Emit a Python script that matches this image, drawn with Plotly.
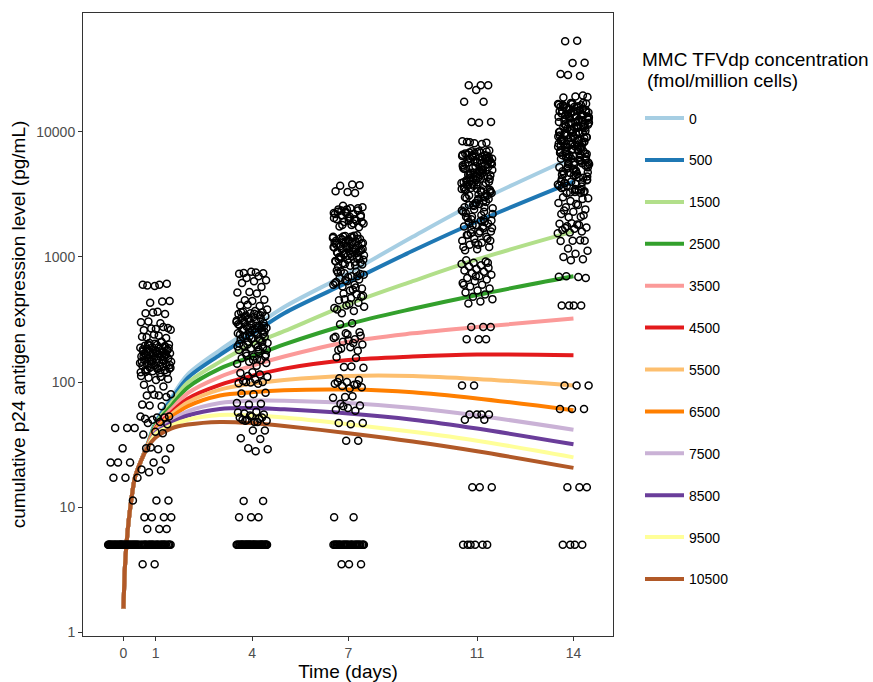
import plotly.graph_objects as go

# ---------------- data ----------------
concentrations = ["0", "500", "1500", "2500", "3500", "4500", "5500", "6500",
                  "7500", "8500", "9500", "10500"]
colors = ["#A6CEE3", "#1F78B4", "#B2DF8A", "#33A02C", "#FB9A99", "#E31A1C",
          "#FDBF6F", "#FF7F00", "#CAB2D6", "#6A3D9A", "#FFFF99", "#B15928"]

curve_t = [0, 0.05, 0.13, 0.24, 0.36, 0.55, 0.75, 1, 1.5, 2, 3, 4, 5, 7, 9, 11, 14]
c0 = [1.55, 3.5, 6.5, 11.3, 17.4, 23.6, 32.0, 48, 76, 115, 180, 268, 398, 742, 1450, 2750, 6300]
c500 = [1.55, 3.5, 6.5, 11.3, 17.4, 23.6, 31.8, 47.3, 73, 108, 165, 242, 355, 630, 1120, 1920, 4000]
c1500 = [1.55, 3.5, 6.5, 11.3, 17.4, 23.6, 31.6, 46.2, 69, 99, 145, 200, 255, 420, 640, 955, 1600]
c2500 = [1.55, 3.5, 6.5, 11.3, 17.4, 23.6, 31.4, 45.1, 65, 90.5, 128, 160, 200, 290, 385, 497, 700]
c3500 = [1.55, 3.5, 6.5, 11.3, 17.4, 23.6, 31.2, 43.8, 61, 81.5, 110, 135, 160, 210, 245, 275, 322]
c4500 = [1.55, 3.5, 6.5, 11.3, 17.4, 23.6, 31.0, 42.6, 57.4, 73.6, 95, 112, 128, 150, 160, 166, 164]
c5500 = [1.55, 3.5, 6.5, 11.3, 17.4, 23.6, 30.9, 41.9, 55.3, 69, 87, 97, 104, 112, 112, 106, 94]
c6500 = [1.55, 3.5, 6.5, 11.3, 17.4, 23.6, 30.8, 41.0, 52.7, 64, 78, 83, 86, 87, 83, 74, 59.5]
c7500 = [1.55, 3.5, 6.5, 11.3, 17.4, 23.6, 30.6, 40.0, 49.7, 58.3, 68, 71, 71, 68, 62, 54, 41.6]
c8500 = [1.55, 3.5, 6.5, 11.3, 17.4, 23.6, 30.4, 39.2, 47.3, 54, 61, 62, 60.5, 56, 50, 42.5, 31.8]
c9500 = [1.55, 3.5, 6.5, 11.3, 17.4, 23.6, 30.2, 38.4, 45.1, 50, 54.5, 54, 52, 46, 40, 34, 25]
c10500 = [1.55, 3.5, 6.5, 11.3, 17.4, 23.6, 30.0, 36, 42.7, 45.7, 48, 47, 44.6, 39, 33.5, 28, 20.6]
curves = [c0, c500, c1500, c2500, c3500, c4500, c5500, c6500, c7500, c8500, c9500, c10500]

days = [0, 1, 4, 7, 11, 14]
day_ticks = ["0", "1", "4", "7", "11", "14"]

legend_title_lines = ["MMC TFVdp concentration", "(fmol/million cells)"]

day0_vals = [43, 43, 43, 29.5, 22.7, 22.7, 22.7, 17.2, 17.2, 17.2, 11.3] + [5] * 36

day1_vals = [600, 590, 610, 585, 600, 440, 430, 445, 365, 355, 350, 360, 300, 295, 305,
             270, 265, 260, 275, 268, 262, 235, 228, 225, 240, 230,
             210, 205, 200, 198, 195, 192, 190, 188, 185, 183, 180, 178, 176, 175, 172,
             170, 168, 166, 165, 163, 160, 158, 156, 155, 153, 150, 148, 146, 145, 143,
             140, 138, 136, 135, 133, 130, 128, 127, 125, 124, 122, 120, 118, 200, 180,
             170, 160, 150, 140, 130, 190, 175, 165, 155, 145,
             208, 196, 186, 177, 168, 159, 151, 142, 134, 126, 119, 202, 182, 162, 147,
             137, 129, 121, 193, 171,
             112, 110, 108, 106, 104, 95, 92, 88, 80, 78, 78, 76, 79, 66, 64, 65,
             53, 52, 51, 52, 50, 53, 48, 47, 46, 40, 38, 39, 30, 29.5, 29, 29.5,
             24, 22.7, 20, 19.6, 19, 11.3, 11.3, 8.3, 8.3, 8.3, 8.3, 6.7, 6.7, 6.7,
             3.5, 3.5] + [5] * 28

day4_vals = [750, 745, 740, 760, 735, 700, 680, 650, 640, 620, 575, 525, 520, 510,
             450, 455, 445, 410, 405, 415, 380,
             370, 365, 360, 355, 350, 345, 340, 335, 330, 325, 320, 315, 310, 305, 300,
             295, 290, 285, 280, 275, 270, 265, 260, 255, 250, 245, 240, 235, 230, 225,
             220, 215, 210, 205, 200, 195, 190, 185, 180, 175, 170, 165, 160, 155, 150,
             145, 140, 135, 300, 280, 260, 240, 220, 200, 180, 250, 230, 210, 270, 290,
             190, 170, 160, 150,
             362, 342, 322, 302, 282, 262, 242, 222, 202, 182, 162, 142, 352, 312, 272,
             232, 192, 152, 332, 252,
             120, 118, 115, 112, 110, 105, 102, 100, 99, 98, 97, 100, 82, 80, 81,
             67, 66, 68, 58, 56, 55, 53, 52, 51, 50, 49, 48, 50, 52, 54, 57, 48, 49,
             41, 41, 35.5, 35, 29.6, 29, 28, 11.2, 11.2, 8.3, 8.3, 8.3] + [5] * 40

day7_vals = [3800, 3700, 3750, 3300, 3350, 3250,
             2570, 2500, 2450, 2400, 2350, 2300, 2250, 2200, 2150, 2100, 2050, 2000,
             1950, 1900, 1850, 1800, 1750, 1730, 2400, 2200, 2000, 1800, 1900, 2100, 2300,
             1490, 1470, 1450, 1430, 1410, 1390, 1370, 1350, 1330, 1310, 1290, 1270,
             1250, 1230, 1210, 1190, 1170, 1150, 1130, 1110, 1090, 1070, 1050, 1030,
             1010, 990, 970, 950, 930, 910, 890, 870, 850, 830, 1400, 1300, 1200, 1100,
             1000, 900, 1350, 1250, 1150, 1050, 950, 1450, 1000, 1100, 1200, 1300,
             1480, 1380, 1280, 1180, 1080, 980, 880, 1420, 1320, 1220, 1120, 1020, 920,
             860, 1460, 1160, 1060, 960, 2450, 2250, 2050, 1850, 2350, 2150, 1950,
             780, 760, 740, 720, 700, 680, 660, 640, 620, 600, 580, 560, 540, 750, 700,
             650, 600, 550, 770, 730, 690, 630, 570,
             510, 490, 470, 450, 430, 410, 390, 370, 355, 480, 420, 380, 500, 460, 400,
             295, 290, 250, 240, 230, 220, 210, 200, 190, 180, 178, 245, 225, 205, 185,
             235, 215, 158, 156, 132, 130, 133,
             107, 104, 100, 97, 95, 93, 91, 89, 100, 96, 76, 75, 77, 67, 65, 62, 60, 59, 64,
             47, 46, 47, 34, 34, 8.3, 8.3, 3.5, 3.5, 3.5] + [5] * 30

day11_vals = [23600, 23600, 23600, 21600, 17400, 17400, 12000, 12000, 11800,
              8300, 8200, 8100, 8400, 8000, 8250,
              7100, 6900, 6700, 6500, 6300, 6100, 5900, 5700, 5500, 5300, 5100, 4900,
              4700, 4500, 4300, 4100, 3900, 3700, 3500, 3300, 3100, 2900, 2700, 2500,
              2300, 2100, 1960, 7000, 6600, 6200, 5800, 5400, 5000, 4600, 4200, 3800,
              3400, 3000, 2600, 2200, 6800, 6000, 5200, 4400, 3600, 2800, 2000, 5600,
              4800, 4000, 3200, 2400, 6400, 5000, 4500, 4000, 3500, 3000, 2500, 6500,
              5500, 4500, 3700, 3100, 2700, 2300, 5300, 4300, 3300, 2900, 2100, 6100,
              4700, 3900, 3400, 2600, 5900, 4100, 3500, 2000, 7000, 5700, 4900, 3800,
              6950, 6750, 6550, 6350, 6150, 5950, 5750, 5550, 5350, 5150, 4950, 4750,
              4550, 4350, 4150, 3950, 3750, 3550, 3350, 3150, 2950, 2750, 2550, 2350,
              2150, 6850, 6250, 5650, 5050, 4450, 3850, 3250, 2650, 2050, 6450, 5850,
              5250, 4650, 4050, 3450, 2850, 2250, 6050, 4250, 2450,
              1950, 1900, 1850, 1800, 1750, 1700, 1650, 1600, 1550, 1500, 1450, 1400,
              1350, 1300, 1250, 1200, 1150, 1130, 1900, 1800, 1700, 1600, 1500, 1400,
              1300, 1200, 1750, 1550, 1350, 1250,
              940, 920, 900, 880, 860, 840, 820, 800, 780, 760, 740, 720, 700, 680, 660,
              640, 620, 600, 580, 560, 540, 520, 500, 480, 460, 440, 425, 900, 700, 600,
              275, 275, 275, 220, 220, 220, 94, 94, 55, 55, 55, 55, 50, 50,
              14.4, 14.4, 14.4, 5, 5, 5, 5, 5, 5]

day14_vals = [53500, 53000, 35700, 35500, 29000, 28000, 28500, 19000, 19200, 18800, 19500,
              17000, 16500, 16000, 15500, 15000, 14500, 14000, 13500, 13000, 12500,
              12000, 11500, 11000, 10500, 10000, 9700, 9400, 9100, 8800, 8500, 8200,
              7900, 7600, 7300, 7000, 6700, 6400, 6100, 5800, 5500, 5200, 4900, 4600,
              4300, 4000, 3700, 3400, 3240, 16800, 15800, 14800, 13800, 12800, 11800,
              10800, 9800, 8900, 8000, 7100, 6200, 5300, 4400, 3500, 16200, 15200,
              14200, 13200, 12200, 11200, 10200, 9300, 8400, 7500, 6600, 5700, 4800,
              3900, 3300, 16600, 14600, 12600, 10600, 9000, 7700, 6500, 5600, 4700,
              3800, 15600, 13600, 11600, 9900, 8600, 7400, 6300, 5400, 4500, 3600,
              17000, 14000, 12000, 10000, 8000, 6000, 5000, 4200, 3450, 15000, 13000,
              11000, 9500, 8300, 7200, 6800, 5900, 5100, 4100, 3300, 16400, 12400,
              10400, 9200, 7800, 6900, 6000, 5000, 4000, 3250, 13400, 11400, 9600,
              8100, 7000, 6100, 5200, 4300, 3700, 14400, 10900, 8700, 7600, 6400, 5500,
              4600, 3900, 3350,
              16900, 15900, 14900, 13900, 12900, 11900, 10900, 9900, 8950, 8050, 7150,
              6250, 5350, 4450, 3550, 16300, 15300, 14300, 13300, 12300, 11300, 10300,
              9350, 8450, 7550, 6650, 5750, 4850, 3950, 3280, 16700, 14700, 12700,
              10700, 9050, 7750, 6550, 5650, 4750, 3850, 15700, 13700, 11700, 9950,
              8650, 7450, 6350, 5450, 4550, 3650, 15100, 13100, 11100, 9550, 8350, 7250,
              6850, 5950, 5150, 4150, 3420,
              3000, 2900, 2800, 2700, 2600, 2500, 2400, 2300, 2200, 2100, 2080, 2950,
              2650, 2350, 2150,
              1860, 1840, 1800, 1760, 1720, 1680, 1640, 1600, 1570, 1550, 1820, 1700,
              1350, 1350, 1340, 1360, 1170, 1120, 1060, 1000, 960, 940,
              695, 690, 700, 680, 410, 410, 410, 410, 94, 94, 94, 61, 61, 61,
              14.4, 14.4, 14.4, 5, 5, 5, 5]

day_values = [day0_vals, day1_vals, day4_vals, day7_vals, day11_vals, day14_vals]

# ---------------- figure ----------------
fig = go.Figure()

for name, col, vals in zip(concentrations, colors, curves):
    fig.add_trace(go.Scatter(
        x=curve_t, y=vals, mode="lines", name=name, legendgroup=name,
        line=dict(color=col, width=4, shape="spline", smoothing=0.9),
        hoverinfo="skip"))

GOLD = 0.6180339887
for d, vals in zip(days, day_values):
    xs = [d + (((i + 1) * GOLD) % 1.0 - 0.5) * 0.98 for i in range(len(vals))]
    fig.add_trace(go.Scatter(
        x=xs, y=vals, mode="markers", showlegend=False,
        marker=dict(symbol="circle-open", size=7, color="black",
                    line=dict(width=1.5, color="black"))))

font_family = "Liberation Sans, Arial, sans-serif"
PL, PR, PT, PB = 83, 613, 13, 636   # panel edges in pixels
PW, PH = PR - PL, PB - PT

# legend title as two text lines (ggplot-like tight spacing)
fig.add_annotation(text=legend_title_lines[0], xref="paper", yref="paper",
                   x=(640 - PL) / PW, y=1 - (59 - PT) / PH, xanchor="left",
                   yanchor="middle", showarrow=False,
                   font=dict(size=19, color="black"))
fig.add_annotation(text=legend_title_lines[1], xref="paper", yref="paper",
                   x=(645 - PL) / PW, y=1 - (81 - PT) / PH, xanchor="left",
                   yanchor="middle", showarrow=False,
                   font=dict(size=19, color="black"))

fig.update_layout(
    width=873, height=682,
    margin=dict(l=PL, r=873 - PR, t=PT, b=682 - PB, autoexpand=False),
    paper_bgcolor="white", plot_bgcolor="white",
    font=dict(family=font_family, color="black"),
    showlegend=True,
    legend=dict(
        x=(640 - PL) / PW, y=1 - (102.5 - PT) / PH, xanchor="left", yanchor="top",
        font=dict(size=14, color="black"),
        traceorder="grouped", tracegroupgap=20.7,
        itemwidth=39, bgcolor="rgba(0,0,0,0)"),
    xaxis=dict(
        range=[-1.26, 15.23], tickvals=days, ticktext=day_ticks,
        showgrid=False, zeroline=False, showline=True, mirror=True,
        linecolor="#333333", linewidth=1, ticks="outside", ticklen=4,
        tickcolor="#333333", tickfont=dict(size=14, color="#4D4D4D"),
        title=dict(text="Time (days)", font=dict(size=19, color="black"),
                   standoff=2)),
    yaxis=dict(
        type="log", range=[-0.03, 4.95],
        tickvals=[1, 10, 100, 1000, 10000],
        ticktext=["1", "10", "100", "1000", "10000"],
        showgrid=False, zeroline=False, showline=True, mirror=True,
        linecolor="#333333", linewidth=1, ticks="outside", ticklen=4,
        tickcolor="#333333", tickfont=dict(size=14, color="#4D4D4D"),
        title=dict(text="cumulative p24 antigen expression level (pg/mL)",
                   font=dict(size=19, color="black"), standoff=5)),
)

fig.write_html(
    "out.html",
    config={"displayModeBar": False},
    post_script="document.body.style.margin='0px';document.body.style.overflow='hidden';")
